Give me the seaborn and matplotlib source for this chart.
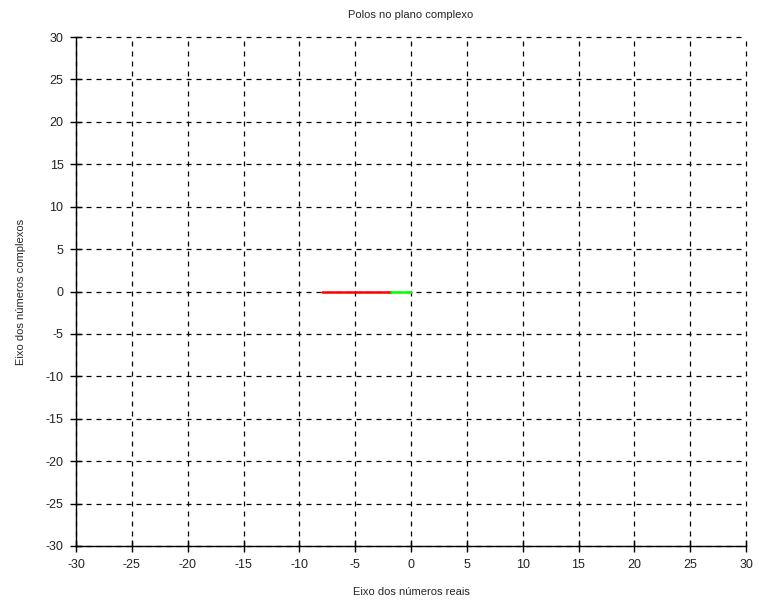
import matplotlib
matplotlib.use("Agg")
import matplotlib.pyplot as plt
import seaborn as sns
import pandas as pd

sns.set_theme(style="white")
plt.rcParams['font.family'] = ['Liberation Sans', 'DejaVu Sans']

# data
red_x = [-8.0, -1.75]
red_y = [0.0, 0.0]
green_x = [-1.75, 0.0]
green_y = [0.0, 0.0]
ticks = [-30, -25, -20, -15, -10, -5, 0, 5, 10, 15, 20, 25, 30]

title = "Polos no plano complexo"
xlabel = "Eixo dos números reais"
ylabel = "Eixo dos números complexos"

fig = plt.figure(figsize=(7.59, 6.10), dpi=100)
ax = fig.add_axes([76/759, 64/610, 670/759, 509/610])

df_red = pd.DataFrame({"x": red_x, "y": red_y})
df_green = pd.DataFrame({"x": green_x, "y": green_y})
sns.lineplot(data=df_red, x="x", y="y", ax=ax, color="#ff0000", lw=1.8, sort=False, zorder=5)
sns.lineplot(data=df_green, x="x", y="y", ax=ax, color="#00ff00", lw=1.8, sort=False, zorder=5)

ax.set_xlim(-30, 30)
ax.set_ylim(-30, 30)
ax.set_xticks(ticks)
ax.set_yticks(ticks)
ax.set_xticklabels([str(t) for t in ticks])
ax.set_yticklabels([str(t) for t in ticks])

ax.grid(True, color="black", linestyle=(0, (4, 4)), linewidth=0.9)
ax.set_axisbelow(True)
for gl in ax.get_xgridlines() + ax.get_ygridlines():
    gl.set_clip_on(False)
for s in ["top", "right"]:
    ax.spines[s].set_visible(False)
for s in ["left", "bottom"]:
    ax.spines[s].set_visible(True)
    ax.spines[s].set_color("black")
    ax.spines[s].set_linewidth(1.0)
    ax.spines[s].set_zorder(6)
ax.tick_params(axis="both", which="major", direction="inout", length=8, width=1.0,
               color="black", labelsize=9, labelcolor="#222222", pad=5,
               bottom=True, left=True, top=False, right=False)

ax.set_title(title, fontsize=8, pad=14)
ax.set_xlabel(xlabel, fontsize=8, labelpad=12)
ax.set_ylabel(ylabel, fontsize=8, labelpad=14)

fig.savefig("out.png", dpi=100)
